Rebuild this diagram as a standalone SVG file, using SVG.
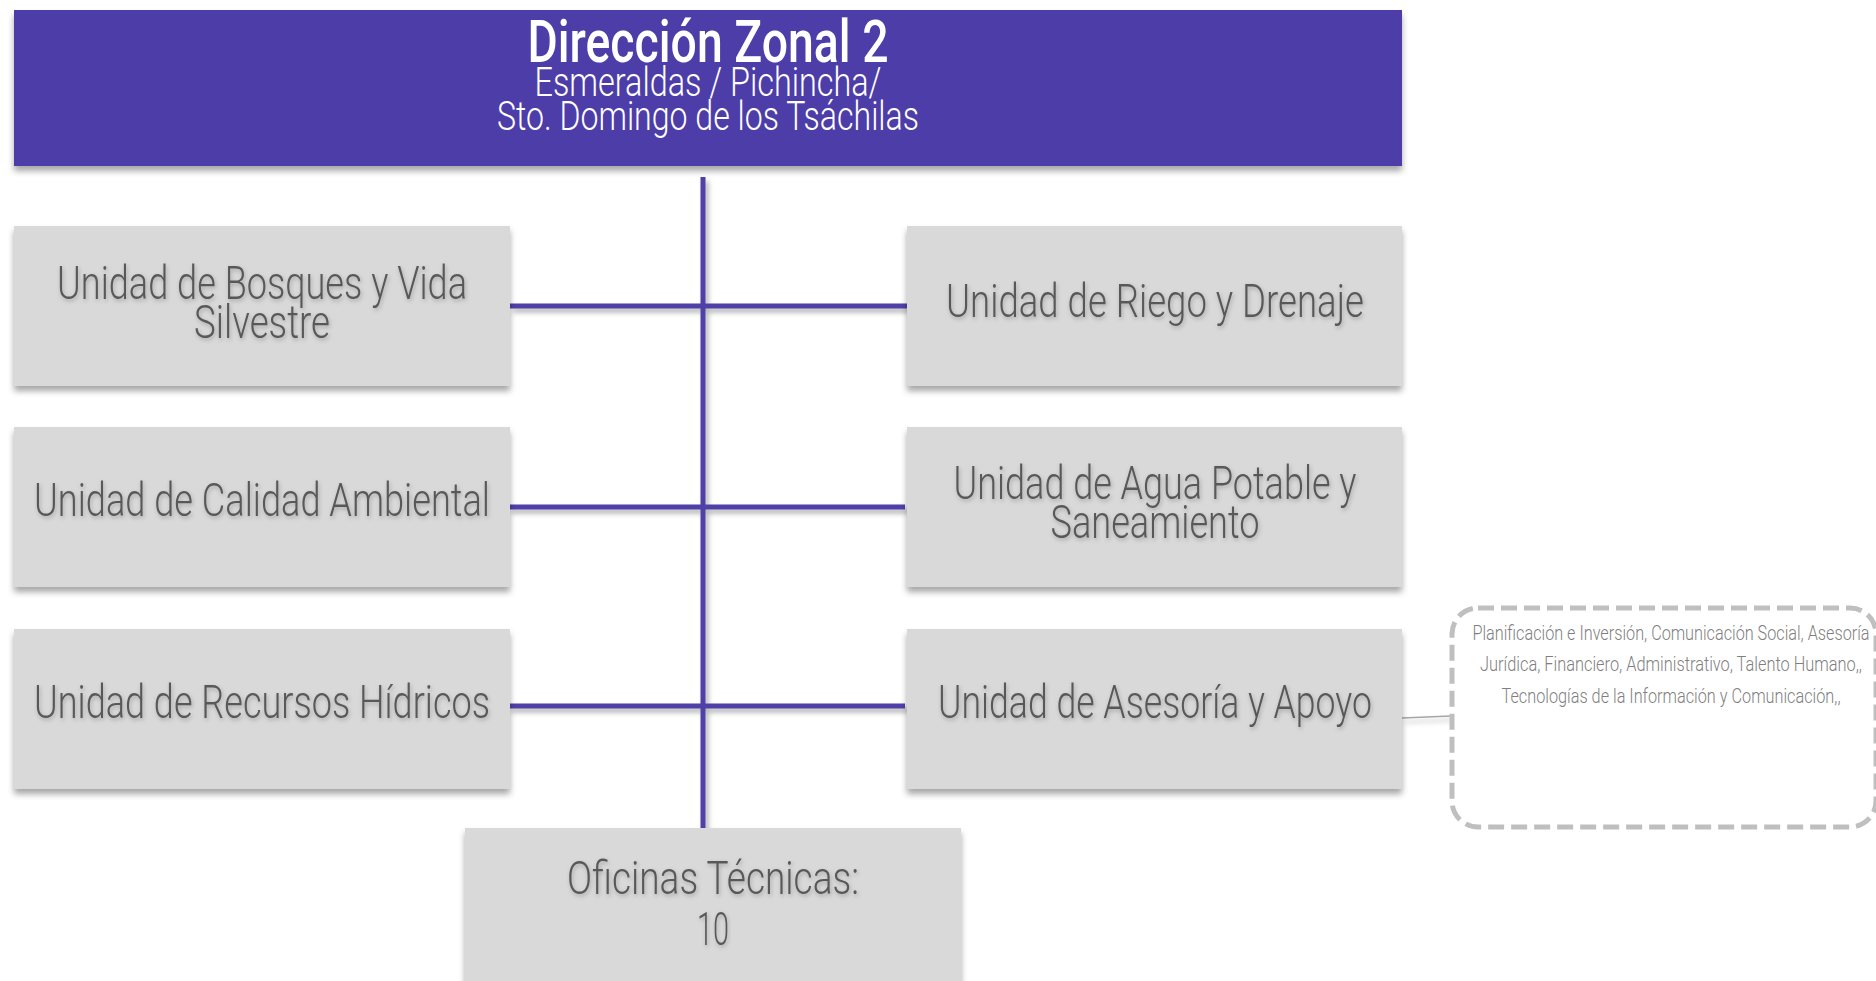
<svg xmlns="http://www.w3.org/2000/svg" width="1876" height="981" viewBox="0 0 1876 981">
<defs>
<filter id="sh" x="-10%" y="-10%" width="120%" height="130%">
<feDropShadow dx="0" dy="5" stdDeviation="3" flood-color="#000" flood-opacity="0.35"/>
</filter>
<filter id="lsh" x="-5%" y="-50%" width="110%" height="300%">
<feDropShadow dx="3" dy="4" stdDeviation="2.5" flood-color="#000" flood-opacity="0.3"/>
</filter>
<filter id="tsh" x="-5%" y="-20%" width="110%" height="150%">
<feDropShadow dx="1" dy="2" stdDeviation="2" flood-color="#000" flood-opacity="0.25"/>
</filter>
</defs>
<style>
.box{fill:#d9d9d9;filter:url(#sh)}
.lbl{font-family:Roboto,"Liberation Sans",sans-serif;font-weight:300;font-size:46px;fill:#595959;text-anchor:middle;filter:url(#tsh)}
.hd{font-family:Roboto,"Liberation Sans",sans-serif;fill:#ffffff;text-anchor:middle}
.conn{stroke:#4f3fa8;stroke-width:5;fill:none}
.note{font-family:Roboto,"Liberation Sans",sans-serif;font-weight:300;font-size:21px;fill:#7f7f7f;text-anchor:middle}
</style>
<rect width="1876" height="981" fill="#ffffff"/>
<g id="header">
<rect x="14" y="10" width="1388" height="156" fill="#4d3ea8" filter="url(#sh)"/>
<text class="hd" x="708" y="62" font-size="60" font-weight="500" textLength="361" lengthAdjust="spacingAndGlyphs">Dirección Zonal 2</text>
<text class="hd" x="708" y="96" font-size="40" font-weight="300" textLength="347" lengthAdjust="spacingAndGlyphs">Esmeraldas / Pichincha/</text>
<text class="hd" x="708" y="130" font-size="40" font-weight="300" textLength="422" lengthAdjust="spacingAndGlyphs">Sto. Domingo de los Tsáchilas</text>
</g>
<g id="connectors" filter="url(#lsh)">
<line class="conn" x1="703" y1="177" x2="703" y2="830"/>
<line class="conn" x1="510" y1="306" x2="907" y2="306"/>
<line class="conn" x1="508" y1="507" x2="905" y2="507"/>
<line class="conn" x1="508" y1="706" x2="905" y2="706"/>
<line x1="1402" y1="718" x2="1451" y2="716" stroke="#a6a6a6" stroke-width="1.5"/>
</g>
<g id="bosques">
<rect class="box" x="14" y="226" width="496" height="160"/>
<text class="lbl" x="262" y="299" textLength="410" lengthAdjust="spacingAndGlyphs">Unidad de Bosques y Vida</text>
<text class="lbl" x="262" y="338" textLength="136" lengthAdjust="spacingAndGlyphs">Silvestre</text>
</g>
<g id="calidad">
<rect class="box" x="14" y="427" width="496" height="160"/>
<text class="lbl" x="262" y="516" textLength="456" lengthAdjust="spacingAndGlyphs">Unidad de Calidad Ambiental</text>
</g>
<g id="recursos">
<rect class="box" x="14" y="629" width="496" height="160"/>
<text class="lbl" x="262" y="718" textLength="456" lengthAdjust="spacingAndGlyphs">Unidad de Recursos Hídricos</text>
</g>
<g id="riego">
<rect class="box" x="907" y="226" width="495" height="160"/>
<text class="lbl" x="1155" y="317" textLength="418" lengthAdjust="spacingAndGlyphs">Unidad de Riego y Drenaje</text>
</g>
<g id="agua">
<rect class="box" x="907" y="427" width="495" height="160"/>
<text class="lbl" x="1155" y="499" textLength="403" lengthAdjust="spacingAndGlyphs">Unidad de Agua Potable y</text>
<text class="lbl" x="1155" y="538" textLength="209" lengthAdjust="spacingAndGlyphs">Saneamiento</text>
</g>
<g id="asesoria">
<rect class="box" x="907" y="629" width="495" height="160"/>
<text class="lbl" x="1155" y="718" textLength="434" lengthAdjust="spacingAndGlyphs">Unidad de Asesoría y Apoyo</text>
</g>
<g id="oficinas">
<rect class="box" x="465" y="828" width="496" height="160"/>
<text class="lbl" x="713" y="894" textLength="292" lengthAdjust="spacingAndGlyphs">Oficinas Técnicas:</text>
<text class="lbl" x="713" y="945" textLength="32" lengthAdjust="spacingAndGlyphs">10</text>
</g>
<g id="nota">
<rect x="1452" y="608" width="424" height="219" rx="26" ry="26" fill="#ffffff" stroke="#bfbfbf" stroke-width="5" stroke-dasharray="16,7"/>
<text class="note" x="1671" y="640" textLength="397" lengthAdjust="spacingAndGlyphs">Planificación e Inversión, Comunicación Social, Asesoría</text>
<text class="note" x="1671" y="671" textLength="382" lengthAdjust="spacingAndGlyphs">Jurídica, Financiero, Administrativo, Talento Humano,,</text>
<text class="note" x="1671" y="703" textLength="339" lengthAdjust="spacingAndGlyphs">Tecnologías de la Información y Comunicación,,</text>
</g>
</svg>
